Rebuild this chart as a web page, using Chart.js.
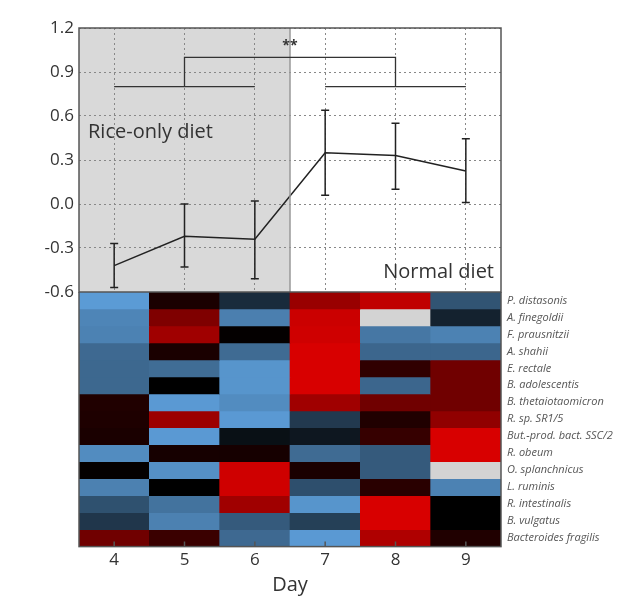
<!DOCTYPE html>
<html lang="en">
<head>
    <meta charset="UTF-8">
    <title>Rice-only diet vs normal diet</title>
    <script src="https://cdn.jsdelivr.net/npm/chart.js"></script>
    <style>
        body {
            margin: 0;
            background: #fff;
            font-family: 'Open Sans', sans-serif;
        }
        #wrap { position: relative; width: 640px; height: 609px; }
        #top { position: absolute; left: 0; top: 0; width: 640px; height: 312px; }
        #bottom { position: absolute; left: 0; top: 292px; width: 640px; height: 317px; }
    </style>
</head>
<body>
    <div id="wrap">
        <div id="top"><canvas id="lineChart"></canvas></div>
        <div id="bottom"><canvas id="heatChart"></canvas></div>
    </div>
    <script>
        // ---- data ----
        const days = [4, 5, 6, 7, 8, 9];
        const meanScore = [-0.42, -0.22, -0.24, 0.35, 0.33, 0.225];
        const errHigh = [-0.27, 0.0, 0.02, 0.64, 0.55, 0.445];
        const errLow = [-0.57, -0.43, -0.51, 0.06, 0.10, 0.01];
        const yTicks = [-0.6, -0.3, 0.0, 0.3, 0.6, 0.9, 1.2];
        const riceDays = [3.5, 6.5];          // shaded period
        const groupBars = [[4, 6], [7, 9]];   // the two day groups compared
        const groupLevel = 0.8;
        const linkDays = [5, 8];
        const linkLevel = 1.0;
        const sigLabel = '**';

        const species = [
            'P. distasonis', 'A. finegoldii', 'F. prausnitzii', 'A. shahii',
            'E. rectale', 'B. adolescentis', 'B. thetaiotaomicron', 'R. sp. SR1/5',
            'But.-prod. bact. SSC/2', 'R. obeum', 'O. splanchnicus', 'L. ruminis',
            'R. intestinalis', 'B. vulgatus', 'Bacteroides fragilis'
        ];
        // relative abundance, -1 (blue) .. 0 (black) .. 1 (red); null = no data (grey)
        const heatValues = [
            [-1.0, 0.12, -0.28, 0.71, 0.89, -0.54],
            [-0.86, 0.59, -0.82, 0.94, null, -0.22],
            [-0.84, 0.74, 0.02, 0.96, -0.77, -0.84],
            [-0.68, 0.12, -0.69, 1.0, -0.66, -0.66],
            [-0.67, -0.7, -0.96, 1.0, 0.22, 0.52],
            [-0.67, 0.0, -0.96, 1.0, -0.66, 0.52],
            [0.15, -0.99, -0.9, 0.74, 0.52, 0.52],
            [0.14, 0.72, -0.99, -0.37, 0.15, 0.67],
            [0.12, -0.99, -0.1, -0.15, 0.25, 1.0],
            [-0.9, 0.1, 0.1, -0.69, -0.58, 1.0],
            [0.02, -0.93, 0.96, 0.12, -0.58, null],
            [-0.83, 0.0, 0.96, -0.51, 0.19, -0.84],
            [-0.52, -0.74, 0.74, -0.96, 1.0, 0.0],
            [-0.35, -0.83, -0.58, -0.41, 1.0, 0.0],
            [0.52, 0.27, -0.68, -0.99, 0.81, 0.15]
        ];

        function cellColor(v) {
            if (v === null) return '#d3d3d3';
            if (v < 0) {
                const t = -v;
                return `rgb(${Math.round(91 * t)},${Math.round(155 * t)},${Math.round(213 * t)})`;
            }
            return `rgb(${Math.round(216 * v)},0,0)`;
        }

        // no extra room for tick labels that hang over the plot edges
        function noOverhang(s) {
            s.paddingTop = 0;
            s.paddingBottom = 0;
            s.paddingLeft = 0;
            s.paddingRight = 0;
        }

        Chart.defaults.font.family = "'Open Sans', sans-serif";
        Chart.defaults.color = '#333';

        const topDecor = {
            id: 'topDecor',
            beforeDraw(chart) {
                const {ctx, chartArea: a, scales: {x}} = chart;
                ctx.save();
                ctx.fillStyle = '#d9d9d9';
                ctx.fillRect(x.getPixelForValue(riceDays[0]), a.top,
                    x.getPixelForValue(riceDays[1]) - x.getPixelForValue(riceDays[0]), a.bottom - a.top);
                ctx.restore();
            },
            afterDatasetsDraw(chart) {
                const {ctx, chartArea: a, scales: {x, y}} = chart;
                ctx.save();
                // divider
                ctx.strokeStyle = '#999';
                ctx.lineWidth = 1.5;
                ctx.beginPath();
                ctx.moveTo(x.getPixelForValue(riceDays[1]), a.top);
                ctx.lineTo(x.getPixelForValue(riceDays[1]), a.bottom);
                ctx.stroke();
                // error bars
                ctx.strokeStyle = '#222';
                ctx.lineWidth = 1.5;
                days.forEach((d, i) => {
                    const px = x.getPixelForValue(d);
                    const hi = y.getPixelForValue(errHigh[i]);
                    const lo = y.getPixelForValue(errLow[i]);
                    ctx.beginPath();
                    ctx.moveTo(px, hi); ctx.lineTo(px, lo);
                    ctx.moveTo(px - 4, hi); ctx.lineTo(px + 4, hi);
                    ctx.moveTo(px - 4, lo); ctx.lineTo(px + 4, lo);
                    ctx.stroke();
                });
                // significance brackets
                ctx.strokeStyle = '#333';
                ctx.lineWidth = 1.3;
                ctx.beginPath();
                groupBars.forEach(g => {
                    ctx.moveTo(x.getPixelForValue(g[0]), y.getPixelForValue(groupLevel));
                    ctx.lineTo(x.getPixelForValue(g[1]), y.getPixelForValue(groupLevel));
                });
                ctx.moveTo(x.getPixelForValue(linkDays[0]), y.getPixelForValue(groupLevel));
                ctx.lineTo(x.getPixelForValue(linkDays[0]), y.getPixelForValue(linkLevel));
                ctx.lineTo(x.getPixelForValue(linkDays[1]), y.getPixelForValue(linkLevel));
                ctx.lineTo(x.getPixelForValue(linkDays[1]), y.getPixelForValue(groupLevel));
                ctx.stroke();
                ctx.fillStyle = '#333';
                ctx.font = "bold 14px 'Open Sans'";
                ctx.textAlign = 'center';
                ctx.textBaseline = 'middle';
                ctx.fillText(sigLabel, x.getPixelForValue((linkDays[0] + linkDays[1]) / 2), y.getPixelForValue(1.08));
                // period labels
                ctx.font = "20px 'Open Sans'";
                ctx.textAlign = 'left';
                ctx.fillText('Rice-only diet', a.left + 9, y.getPixelForValue(0.49));
                ctx.textAlign = 'right';
                ctx.fillText('Normal diet', a.right - 7, y.getPixelForValue(-0.467));
                // frame
                ctx.strokeStyle = '#555';
                ctx.lineWidth = 1.5;
                ctx.strokeRect(a.left, a.top, a.right - a.left, a.bottom - a.top);
                ctx.restore();
            }
        };

        new Chart(document.getElementById('lineChart'), {
            type: 'line',
            data: {
                datasets: [{
                    data: days.map((d, i) => ({x: d, y: meanScore[i]})),
                    borderColor: '#222',
                    borderWidth: 1.5,
                    pointRadius: 0,
                    tension: 0
                }]
            },
            options: {
                responsive: true,
                maintainAspectRatio: false,
                animation: false,
                layout: { padding: { top: 28, right: 139, left: 0, bottom: 20 } },
                plugins: { legend: { display: false }, tooltip: { enabled: false } },
                scales: {
                    x: {
                        type: 'linear', min: 3.5, max: 9.5, offset: false,
                        afterBuildTicks: s => { s.ticks = days.map(v => ({value: v})); },
                        ticks: { display: false },
                        grid: { color: '#888', drawTicks: false },
                        border: { display: false, dash: [2, 3] },
                        afterFit: s => { s.height = 0; noOverhang(s); }
                    },
                    y: {
                        min: -0.6, max: 1.2,
                        afterBuildTicks: s => { s.ticks = yTicks.map(v => ({value: v})); },
                        ticks: {
                            callback: v => v.toFixed(1),
                            color: '#333',
                            font: { size: 17 },
                            padding: 5
                        },
                        grid: { color: '#888', drawTicks: false },
                        border: { display: false, dash: [2, 3] },
                        afterFit: s => { s.width = 79; noOverhang(s); }
                    }
                }
            },
            plugins: [topDecor]
        });

        const heatFrame = {
            id: 'heatFrame',
            afterDatasetsDraw(chart) {
                const {ctx, chartArea: a, scales: {x}} = chart;
                ctx.save();
                ctx.strokeStyle = '#555';
                ctx.lineWidth = 1.5;
                ctx.strokeRect(a.left, a.top, a.right - a.left, a.bottom - a.top);
                ctx.beginPath();
                days.forEach(d => {
                    const px = x.getPixelForValue(d);
                    ctx.moveTo(px, a.bottom);
                    ctx.lineTo(px, a.bottom - 5);
                });
                ctx.stroke();
                ctx.restore();
            }
        };

        new Chart(document.getElementById('heatChart'), {
            type: 'bar',
            data: {
                datasets: species.map((name, r) => ({
                    label: name,
                    data: days.map(d => ({x: d, y: [r, r + 1]})),
                    backgroundColor: heatValues[r].map(cellColor),
                    borderWidth: 0,
                    grouped: false,
                    barPercentage: 1,
                    categoryPercentage: 1
                }))
            },
            options: {
                responsive: true,
                maintainAspectRatio: false,
                animation: false,
                layout: { padding: { top: 0, right: 0, left: 79, bottom: 0 } },
                plugins: { legend: { display: false }, tooltip: { enabled: false } },
                scales: {
                    x: {
                        type: 'linear', min: 3.5, max: 9.5, offset: false,
                        afterBuildTicks: s => { s.ticks = days.map(v => ({value: v})); },
                        grid: { display: false, drawTicks: false },
                        border: { display: false },
                        ticks: { color: '#333', font: { size: 17 }, padding: 3 },
                        title: {
                            display: true, text: 'Day', color: '#333',
                            font: { size: 20 }, padding: { top: 0, bottom: 12 }
                        },
                        afterFit: noOverhang
                    },
                    y: {
                        type: 'linear', position: 'right', min: 0, max: 15, reverse: true,
                        afterBuildTicks: s => { s.ticks = species.map((_, r) => ({value: r + 0.5})); },
                        ticks: {
                            callback: (v, i) => species[i],
                            autoSkip: false,
                            color: '#555',
                            font: { size: 11, style: 'italic' },
                            padding: 6
                        },
                        grid: { display: false, drawTicks: false },
                        border: { display: false },
                        afterFit: s => { s.width = 139; noOverhang(s); }
                    }
                }
            },
            plugins: [heatFrame]
        });
    </script>
</body>
</html>
